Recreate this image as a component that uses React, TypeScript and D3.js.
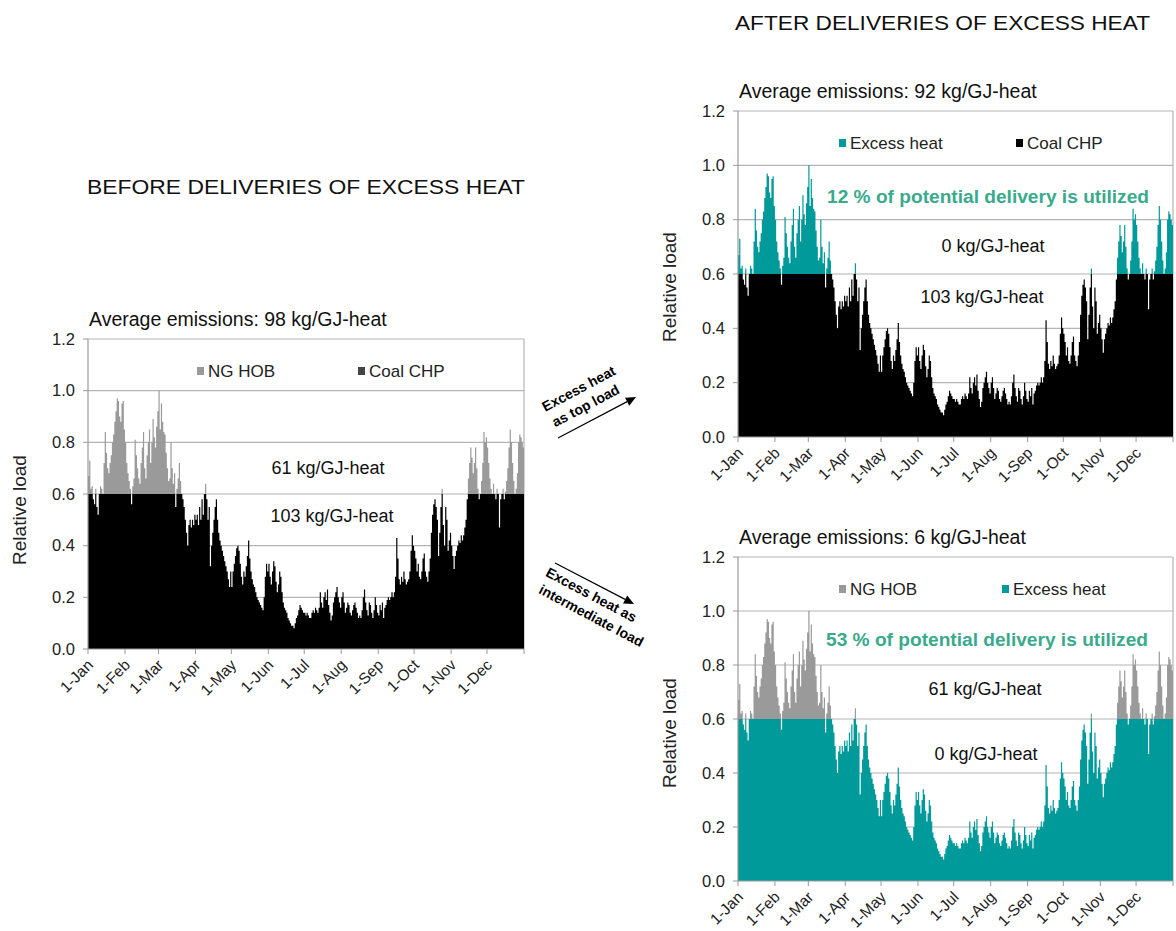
import React from 'react';
import * as d3 from 'd3';

// daily relative heat load, one array per month
const jan = [0.67,0.73,0.62,0.63,0.58,0.56,0.62,0.55,0.52,0.6,0.63,0.62,0.6,0.72,0.84,0.76,0.7,0.68,0.72,0.75,0.8,0.83,0.88,0.92,0.97,0.96,0.9,0.88,0.95,0.96,0.85];
const feb = [0.8,0.72,0.68,0.65,0.62,0.56,0.63,0.66,0.81,0.75,0.7,0.66,0.64,0.72,0.78,0.84,0.7,0.66,0.75,0.8,0.85,0.72,0.8,0.89,0.82,0.78,0.86,0.92];
const mar = [1.0,0.85,0.95,0.88,0.84,0.83,0.76,0.7,0.65,0.66,0.8,0.7,0.64,0.68,0.55,0.62,0.66,0.72,0.65,0.6,0.58,0.55,0.5,0.45,0.4,0.48,0.5,0.47,0.5,0.48,0.52];
const apr = [0.5,0.52,0.48,0.55,0.5,0.58,0.52,0.6,0.64,0.58,0.5,0.55,0.32,0.4,0.45,0.5,0.55,0.58,0.5,0.45,0.42,0.4,0.38,0.36,0.34,0.32,0.3,0.27,0.24,0.3];
const may = [0.24,0.3,0.33,0.36,0.39,0.4,0.38,0.33,0.28,0.25,0.3,0.28,0.32,0.36,0.42,0.35,0.3,0.27,0.25,0.24,0.22,0.2,0.19,0.18,0.17,0.16,0.15,0.2,0.28,0.33,0.3];
const jun = [0.33,0.28,0.25,0.3,0.34,0.32,0.26,0.22,0.25,0.3,0.28,0.22,0.18,0.16,0.15,0.14,0.12,0.11,0.1,0.09,0.09,0.08,0.1,0.12,0.13,0.15,0.17,0.16,0.15,0.14];
const jul = [0.14,0.13,0.14,0.13,0.12,0.12,0.14,0.15,0.14,0.16,0.15,0.14,0.16,0.22,0.18,0.16,0.2,0.22,0.19,0.23,0.17,0.14,0.11,0.13,0.18,0.2,0.22,0.24,0.2,0.18,0.16];
const aug = [0.2,0.22,0.18,0.14,0.16,0.18,0.17,0.14,0.13,0.15,0.17,0.18,0.16,0.14,0.12,0.13,0.12,0.15,0.2,0.23,0.18,0.15,0.13,0.18,0.17,0.14,0.12,0.15,0.2,0.17,0.14];
const sep = [0.13,0.17,0.15,0.18,0.12,0.16,0.17,0.19,0.2,0.19,0.2,0.22,0.2,0.22,0.28,0.43,0.35,0.27,0.25,0.28,0.26,0.3,0.27,0.25,0.26,0.27,0.3,0.38,0.44,0.4];
const oct = [0.38,0.35,0.3,0.33,0.28,0.27,0.3,0.35,0.37,0.3,0.28,0.26,0.3,0.35,0.45,0.52,0.56,0.58,0.55,0.5,0.36,0.45,0.55,0.62,0.48,0.4,0.55,0.5,0.38,0.42,0.45];
const nov = [0.4,0.36,0.31,0.36,0.38,0.4,0.42,0.41,0.44,0.42,0.44,0.47,0.5,0.58,0.66,0.72,0.78,0.74,0.68,0.72,0.78,0.7,0.62,0.58,0.6,0.65,0.72,0.84,0.8,0.82];
const dec = [0.78,0.72,0.66,0.62,0.6,0.64,0.6,0.58,0.62,0.6,0.47,0.58,0.6,0.62,0.58,0.61,0.65,0.7,0.78,0.85,0.8,0.72,0.65,0.6,0.62,0.68,0.8,0.83,0.82,0.8,0.78];

const months = [jan, feb, mar, apr, may, jun, jul, aug, sep, oct, nov, dec];
const monthLabels = ['1-Jan','1-Feb','1-Mar','1-Apr','1-May','1-Jun','1-Jul','1-Aug','1-Sep','1-Oct','1-Nov','1-Dec'];
const yTicks = [0, 0.2, 0.4, 0.6, 0.8, 1.0, 1.2];
const baseLoad = 0.6;

const load = months.flat();
const monthStarts = Array.from(d3.cumsum([0, ...months.slice(0, 11).map(m => m.length)]));
// one extra point so the last day gets its full step
const steps = [...load, load[load.length - 1]];

const TEAL = '#009a9a';
const GREY = '#9a9a9a';
const FONT = '"Liberation Sans", Arial, Helvetica, sans-serif';

type Legend = { label: string; color: string; x: number };
type Label = { text: string; x: number; y: number };

type PanelProps = {
  left: number; right: number; top: number; bottom: number;
  title: string;
  lowColor: string; highColor: string;
  legend: Legend[];
  note?: Label;
  labels: Label[];
  yTitleShift: number;
};

const Panel = (p: PanelProps) => {
  const x = d3.scaleLinear().domain([0, load.length]).range([p.left, p.right]);
  const y = d3.scaleLinear().domain([0, 1.2]).range([p.bottom, p.top]);

  const lowArea = d3.area<number>()
    .curve(d3.curveStepAfter)
    .x((_, i) => x(i))
    .y0(y(0))
    .y1(v => y(Math.min(v, baseLoad)));
  const highArea = d3.area<number>()
    .curve(d3.curveStepAfter)
    .x((_, i) => x(i))
    .y0(y(baseLoad))
    .y1(v => y(Math.max(v, baseLoad)));

  return (
    <g fontFamily={FONT}>
      <text x={p.left + 1} y={p.top - 13} fontSize={19.5} fill="#111">{p.title}</text>

      {yTicks.slice(1).map(t => (
        <line key={t} x1={p.left} x2={p.right} y1={y(t)} y2={y(t)} stroke="#b4b4b4" strokeWidth={1.2} />
      ))}
      <line x1={p.right} x2={p.right} y1={p.top} y2={p.bottom} stroke="#b4b4b4" strokeWidth={1.2} />

      <path d={lowArea(steps) || ''} fill={p.lowColor} />
      <path d={highArea(steps) || ''} fill={p.highColor} />

      {/* axes */}
      <line x1={p.left} x2={p.left} y1={p.top} y2={p.bottom} stroke="#999" strokeWidth={1.2} />
      <line x1={p.left} x2={p.right} y1={p.bottom} y2={p.bottom} stroke="#999" strokeWidth={1.2} />
      {yTicks.map(t => (
        <g key={t}>
          <line x1={p.left - 5} x2={p.left} y1={y(t)} y2={y(t)} stroke="#999" />
          <text x={p.left - 13} y={y(t)} dy="0.35em" textAnchor="end" fontSize={16.5} fill="#222">{t.toFixed(1)}</text>
        </g>
      ))}
      {monthStarts.map((d, i) => (
        <g key={d}>
          <line x1={x(d)} x2={x(d)} y1={p.bottom} y2={p.bottom + 5} stroke="#999" />
          <text transform={`translate(${x(d) + 6},${p.bottom + 17}) rotate(-45)`} textAnchor="end"
            fontSize={15.5} fill="#222">{monthLabels[i]}</text>
        </g>
      ))}
      <line x1={x(load.length)} x2={x(load.length)} y1={p.bottom} y2={p.bottom + 5} stroke="#999" />

      <text transform={`translate(${p.left - 62},${(p.top + p.bottom) / 2 + p.yTitleShift}) rotate(-90)`} textAnchor="middle"
        fontSize={19} fill="#222">Relative load</text>

      {/* legend */}
      {p.legend.map(l => (
        <g key={l.label}>
          <rect x={l.x} y={p.top + 28} width={7} height={8} fill={l.color} />
          <text x={l.x + 11} y={p.top + 38} fontSize={17} fill="#222">{l.label}</text>
        </g>
      ))}

      {p.note && (
        <text x={p.note.x} y={p.note.y} textAnchor="middle" fontSize={17.5} fontWeight="bold" fill="#3aaa8d"
          textLength={322} lengthAdjust="spacingAndGlyphs">{p.note.text}</text>
      )}
      {p.labels.map(l => (
        <text key={l.text} x={l.x} y={l.y} textAnchor="middle" fontSize={18} fill="#111">{l.text}</text>
      ))}
    </g>
  );
};

const Arrow = ({ x1, y1, x2, y2 }: { x1: number; y1: number; x2: number; y2: number }) => {
  const a = Math.atan2(y2 - y1, x2 - x1);
  const L = 10, W = 4.5;
  const bx = x2 - L * Math.cos(a), by = y2 - L * Math.sin(a);
  const pts = [
    [x2, y2],
    [bx - W * Math.sin(a), by + W * Math.cos(a)],
    [bx + W * Math.sin(a), by - W * Math.cos(a)],
  ].map(q => q.join(',')).join(' ');
  return (
    <g>
      <line x1={x1} y1={y1} x2={bx} y2={by} stroke="#000" strokeWidth={1.2} />
      <polygon points={pts} fill="#000" />
    </g>
  );
};

export default function App() {
  return (
    <svg width={1176} height={931} style={{ position: 'absolute', left: 0, top: 0, background: '#fff' }}>
      <text x={87} y={194} fontFamily={FONT} fontSize={21} fill="#111" textLength={438} lengthAdjust="spacingAndGlyphs">BEFORE DELIVERIES OF EXCESS HEAT</text>
      <text x={735} y={30} fontFamily={FONT} fontSize={21} fill="#111" textLength={415} lengthAdjust="spacingAndGlyphs">AFTER DELIVERIES OF EXCESS HEAT</text>

      <Panel left={88} right={524} top={339} bottom={649}
        title="Average emissions: 98 kg/GJ-heat"
        lowColor="#000" highColor={GREY}
        legend={[{ label: 'NG HOB', color: GREY, x: 197 }, { label: 'Coal CHP', color: '#444', x: 358 }]}
        labels={[{ text: '61 kg/GJ-heat', x: 328, y: 474 }, { text: '103 kg/GJ-heat', x: 332, y: 522 }]}
        yTitleShift={16} />

      <Panel left={738} right={1173} top={111} bottom={437}
        title="Average emissions: 92 kg/GJ-heat"
        lowColor="#000" highColor={TEAL}
        legend={[{ label: 'Excess heat', color: TEAL, x: 839 }, { label: 'Coal CHP', color: '#000', x: 1016 }]}
        note={{ text: '12 % of potential delivery is utilized', x: 988, y: 203 }}
        labels={[{ text: '0 kg/GJ-heat', x: 993, y: 252 }, { text: '103 kg/GJ-heat', x: 982, y: 303 }]}
        yTitleShift={13} />

      <Panel left={738} right={1173} top={557} bottom={881}
        title="Average emissions: 6 kg/GJ-heat"
        lowColor={TEAL} highColor={GREY}
        legend={[{ label: 'NG HOB', color: GREY, x: 839 }, { label: 'Excess heat', color: TEAL, x: 1002 }]}
        note={{ text: '53 % of potential delivery is utilized', x: 987, y: 646 }}
        labels={[{ text: '61 kg/GJ-heat', x: 985, y: 695 }, { text: '0 kg/GJ-heat', x: 986, y: 760 }]}
        yTitleShift={14} />

      <g fontFamily={FONT} fontWeight="bold" fontSize={14} fill="#000">
        <text transform="translate(581,393) rotate(-28)" textAnchor="middle">Excess heat</text>
        <text transform="translate(588,410) rotate(-28)" textAnchor="middle">as top load</text>
        <Arrow x1={558} y1={438} x2={636} y2={397} />

        <Arrow x1={555} y1={563} x2={634} y2={604} />
        <text transform="translate(589,599) rotate(28)" textAnchor="middle">Excess heat as</text>
        <text transform="translate(589,620) rotate(28)" textAnchor="middle">intermediate load</text>
      </g>
    </svg>
  );
}
